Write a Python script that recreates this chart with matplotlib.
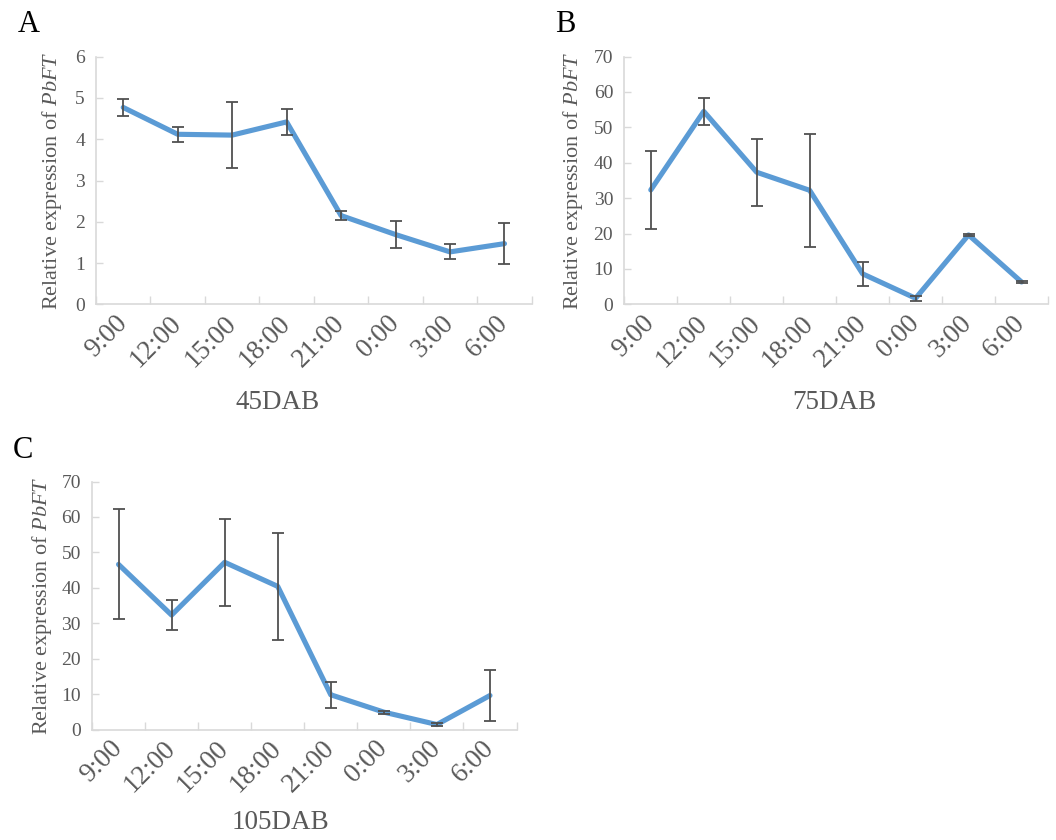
import numpy as np
import matplotlib
matplotlib.use('Agg')
import matplotlib.pyplot as plt

plt.rcParams['font.family'] = ['Liberation Serif', 'DejaVu Serif']
plt.rcParams['mathtext.fontset'] = 'custom'
plt.rcParams['mathtext.rm'] = 'Liberation Serif'
plt.rcParams['mathtext.it'] = 'Liberation Serif:italic'

# sampling times
times = ['9:00', '12:00', '15:00', '18:00', '21:00', '0:00', '3:00', '6:00']

# 45 DAB
a_mean = [4.77, 4.12, 4.10, 4.42, 2.15, 1.69, 1.27, 1.47]
a_err = [0.21, 0.18, 0.80, 0.31, 0.10, 0.33, 0.18, 0.49]

# 75 DAB
b_mean = [32.3, 54.5, 37.3, 32.2, 8.6, 1.7, 19.6, 6.3]
b_err = [11.1, 3.8, 9.5, 15.9, 3.3, 0.7, 0.4, 0.3]

# 105 DAB
c_mean = [46.6, 32.3, 47.2, 40.4, 9.8, 4.9, 1.4, 9.6]
c_err = [15.5, 4.3, 12.3, 15.1, 3.7, 0.4, 0.4, 7.3]

line_col = '#5B9BD5'
err_col = '#505050'
txt_col = '#595959'
axis_col = '#D9D9D9'

W, H = 1056, 840
fig = plt.figure(figsize=(W/100, H/100), dpi=100)


def px_axes(left, right, top, bottom):
    # pixel box -> figure fractions
    return [left/W, 1 - bottom/H, (right-left)/W, (bottom-top)/H]


def panel(box, mean, err, ymax, ystep, xlabel, xlab_pos, ylab_x, letter, letter_pos):
    ax = fig.add_axes(px_axes(*box))
    x = np.arange(len(times))
    ax.plot(x, mean, color=line_col, lw=3.7, solid_joinstyle='round',
            solid_capstyle='round', zorder=2)
    ax.errorbar(x, mean, yerr=err, fmt='none', ecolor=err_col, elinewidth=1.3,
                capsize=4, capthick=1.3, zorder=3)

    ax.set_xlim(-0.5, len(times) - 0.5)
    ax.set_ylim(0, ymax)
    ax.set_yticks(np.arange(0, ymax + ystep/2, ystep))

    # category boundaries get the tick marks, labels sit at the centres
    ax.set_xticks(np.arange(-0.5, len(times)), labels=[])
    ax.set_xticks(x, minor=True)
    ax.set_xticklabels(times, minor=True, rotation=45, ha='right', va='center',
                       rotation_mode='anchor', fontsize=19.5, color=txt_col)
    ax.tick_params(axis='x', which='major', direction='in', length=6, width=1, color=axis_col)
    ax.tick_params(axis='x', which='minor', length=0, pad=11)
    ax.tick_params(axis='y', direction='in', length=5, width=1, color=axis_col,
                   labelsize=14, labelcolor=txt_col, pad=8)

    for s in ['top', 'right']:
        ax.spines[s].set_visible(False)
    for s in ['left', 'bottom']:
        ax.spines[s].set_color(axis_col)
        ax.spines[s].set_linewidth(1.2)

    ax.set_ylabel('Relative expression of $\\mathit{PbFT}$', fontsize=16, color=txt_col)
    ax.yaxis.set_label_coords(ylab_x, 0.5)
    ax.set_xlabel(xlabel, fontsize=19.5, color=txt_col, va='center')
    ax.xaxis.set_label_coords(*xlab_pos)

    fig.text(letter_pos[0]/W, 1 - letter_pos[1]/H, letter, fontsize=22,
             ha='center', va='center', color='black')
    return ax


panel((96, 531.7, 56.7, 304.3), a_mean, a_err, 6, 1, '45DAB', (0.4166, -0.397), -0.0734,
      'A', (28.5, 24))
panel((624.3, 1048, 56.5, 304.3), b_mean, b_err, 70, 10, '75DAB', (0.4966, -0.397), -0.0928,
      'B', (565, 25))
panel((92, 516.5, 481.5, 729.5), c_mean, c_err, 70, 10, '105DAB', (0.443, -0.377), -0.0895,
      'C', (22.7, 450))

fig.savefig('out.png', dpi=100)
